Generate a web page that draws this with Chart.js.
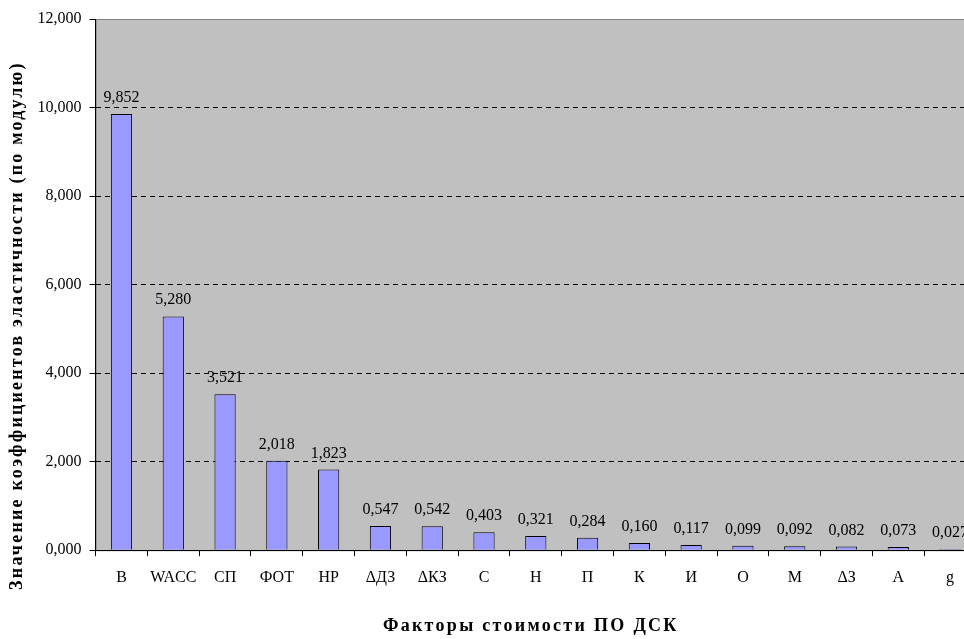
<!DOCTYPE html>
<html>
<head>
<meta charset="utf-8">
<script src="https://cdn.jsdelivr.net/npm/chart.js@4/dist/chart.umd.min.js"></script>
<style>
  html, body { margin: 0; padding: 0; background: #fff; overflow: hidden; }
  #wrap { width: 982px; height: 639px; }
</style>
</head>
<body>
<div id="wrap"><canvas id="elastChart" width="982" height="639"></canvas></div>
<script>
// factor names and elasticity values (absolute)
const factors = ["В", "WACC", "СП", "ФОТ", "НР", "ΔДЗ", "ΔКЗ", "С", "Н", "П", "К", "И", "О", "М", "ΔЗ", "А", "g"];
const elasticity = [9.852, 5.280, 3.521, 2.018, 1.823, 0.547, 0.542, 0.403, 0.321, 0.284, 0.160, 0.117, 0.099, 0.092, 0.082, 0.073, 0.027];

const fmt = v => v.toFixed(3).replace(".", ",");
const serif = "'Liberation Serif', 'Times New Roman', serif";

// gray plot area like excel
const plotBg = {
    id: "plotBg",
    beforeDraw(chart) {
        const a = chart.chartArea, ctx = chart.ctx;
        ctx.save();
        ctx.fillStyle = "#c0c0c0";
        ctx.fillRect(a.left, a.top, a.right - a.left, a.bottom - a.top);
        ctx.strokeStyle = "#808080";
        ctx.lineWidth = 1;
        ctx.strokeRect(a.left + 0.5, a.top + 0.5, a.right - a.left, a.bottom - a.top);
        ctx.restore();
    }
};

// spaced-out axis titles (excel style), nudged to where excel puts them
const spacedTitles = {
    id: "spacedTitles",
    afterLayout(chart) {
        ["x", "y"].forEach(id => {
            const s = chart.scales[id];
            if (s && !s._spaced) {
                const orig = s.drawTitle.bind(s);
                s.drawTitle = function () {
                    this.ctx.save();
                    if (id === "y") {
                        this.ctx.letterSpacing = "2.2px";
                        this.ctx.translate(1, 41);
                    } else {
                        this.ctx.letterSpacing = "2.3px";
                        this.ctx.translate(-5, 0);
                    }
                    orig();
                    this.ctx.restore();
                };
                s._spaced = true;
            }
        });
    }
};

// values above bars
const barLabels = {
    id: "barLabels",
    afterDatasetsDraw(chart) {
        const ctx = chart.ctx;
        const meta = chart.getDatasetMeta(0);
        ctx.save();
        ctx.font = "16px " + serif;
        ctx.fillStyle = "#000";
        ctx.textAlign = "center";
        ctx.textBaseline = "alphabetic";
        meta.data.forEach((bar, i) => {
            ctx.fillText(fmt(elasticity[i]), bar.x, bar.y - 12);
        });
        ctx.restore();
    }
};

new Chart(document.getElementById("elastChart"), {
    type: "bar",
    data: {
        labels: factors,
        datasets: [{
            data: elasticity,
            backgroundColor: "#9999ff",
            borderColor: "#000",
            borderWidth: 1,
            barPercentage: 0.41,
            categoryPercentage: 1
        }]
    },
    options: {
        responsive: false,
        animation: false,
        layout: { padding: { left: 0, right: 6, top: 19, bottom: 0 } },
        plugins: {
            legend: { display: false },
            tooltip: { enabled: false }
        },
        scales: {
            x: {
                grid: { drawOnChartArea: false, drawTicks: true, tickLength: 6, tickColor: "#000" },
                border: { color: "#000", width: 1 },
                ticks: { color: "#000", padding: 12, font: { family: serif, size: 16 }, maxRotation: 0, autoSkip: false },
                title: {
                    display: true,
                    text: "Факторы стоимости ПО ДСК",
                    color: "#000",
                    font: { family: serif, size: 18, weight: "bold" },
                    padding: { top: 16, bottom: 2 }
                }
            },
            y: {
                min: 0,
                max: 12,
                ticks: {
                    stepSize: 2,
                    color: "#000",
                    padding: 8,
                    font: { family: serif, size: 16 },
                    callback: v => fmt(v)
                },
                grid: {
                    color: c => (c.tick && (c.tick.value === 0 || c.tick.value === 12)) ? "rgba(0,0,0,0)" : "#000",
                    tickColor: "#000",
                    tickLength: 6,
                    tickBorderDash: []
                },
                border: { color: "#000", width: 1, dash: [5, 4] },
                title: {
                    display: true,
                    text: "Значение коэффициентов эластичности (по модулю)",
                    color: "#000",
                    font: { family: serif, size: 18, weight: "bold" },
                    padding: { top: 6, bottom: 2 }
                }
            }
        }
    },
    plugins: [plotBg, spacedTitles, barLabels]
});
</script>
</body>
</html>
